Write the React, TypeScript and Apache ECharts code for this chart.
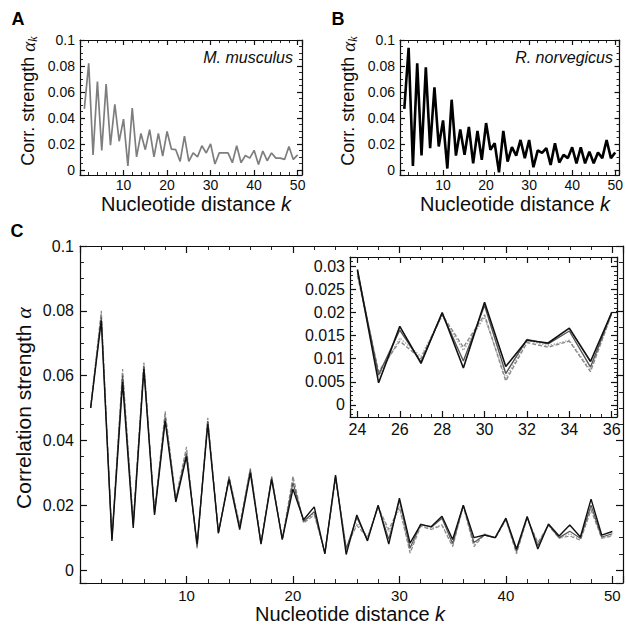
import React, { useEffect, useRef } from 'react';
import * as echarts from 'echarts';

// Nucleotide distances k
const distances = [1, 2, 3, 4, 5, 6, 7, 8, 9, 10, 11, 12, 13, 14, 15, 16, 17, 18, 19, 20, 21, 22, 23, 24, 25, 26, 27, 28, 29, 30, 31, 32, 33, 34, 35, 36, 37, 38, 39, 40, 41, 42, 43, 44, 45, 46, 47, 48, 49, 50];

// Panel A: M. musculus
const musculus = [0.047, 0.082, 0.0115, 0.068, 0.015, 0.066, 0.019, 0.0505, 0.022, 0.039, 0.003, 0.0475, 0.010, 0.028, 0.0155, 0.031, 0.010, 0.028, 0.0105, 0.0295, 0.016, 0.0155, 0.0065, 0.026, 0.0065, 0.013, 0.010, 0.0185, 0.013, 0.020, 0.0045, 0.013, 0.013, 0.013, 0.0055, 0.0185, 0.0055, 0.011, 0.009, 0.015, 0.004, 0.0145, 0.007, 0.013, 0.009, 0.009, 0.008, 0.018, 0.008, 0.0115];

// Panel B: R. norvegicus
const norvegicus = [0.047, 0.094, 0.003, 0.082, 0.011, 0.079, 0.0167, 0.0636, 0.018, 0.038, 0.001, 0.054, 0.011, 0.031, 0.0115, 0.033, 0.005, 0.030, 0.0077, 0.036, 0.0154, 0.0205, -0.002, 0.030, 0.0064, 0.0174, 0.011, 0.023, 0.009, 0.023, 0.002, 0.015, 0.013, 0.0167, 0.0038, 0.0205, 0.0056, 0.0115, 0.009, 0.0174, 0.005, 0.0174, 0.005, 0.014, 0.005, 0.0133, 0.009, 0.023, 0.009, 0.0133];

// Panel C: several overlapping estimates
const corrBlack = [0.050, 0.077, 0.009, 0.058, 0.013, 0.062, 0.017, 0.046, 0.021, 0.035, 0.008, 0.045, 0.0115, 0.028, 0.0125, 0.030, 0.008, 0.028, 0.0095, 0.025, 0.0155, 0.0195, 0.005, 0.0293, 0.0048, 0.017, 0.009, 0.020, 0.008, 0.0222, 0.0083, 0.014, 0.0134, 0.0166, 0.0094, 0.020, 0.010, 0.0108, 0.0100, 0.016, 0.0065, 0.0165, 0.0065, 0.0142, 0.0105, 0.0139, 0.0102, 0.0219, 0.0108, 0.0119];
const corrDark = [0.050, 0.078, 0.0095, 0.060, 0.014, 0.063, 0.0175, 0.047, 0.0215, 0.036, 0.0072, 0.046, 0.0114, 0.0285, 0.013, 0.031, 0.0082, 0.0285, 0.0095, 0.027, 0.015, 0.018, 0.0052, 0.029, 0.0065, 0.0162, 0.0093, 0.0198, 0.0095, 0.0215, 0.0068, 0.0142, 0.0132, 0.016, 0.0082, 0.020, 0.0085, 0.0108, 0.0100, 0.0158, 0.0058, 0.0163, 0.0075, 0.014, 0.0100, 0.012, 0.0098, 0.020, 0.0102, 0.0112];
const corrDashed = [0.050, 0.080, 0.010, 0.062, 0.015, 0.064, 0.018, 0.049, 0.022, 0.038, 0.0067, 0.047, 0.0113, 0.029, 0.014, 0.0314, 0.0082, 0.0289, 0.0093, 0.029, 0.0145, 0.017, 0.0055, 0.028, 0.0072, 0.0138, 0.010, 0.0195, 0.0125, 0.0195, 0.0052, 0.0135, 0.0125, 0.0138, 0.0072, 0.0198, 0.0072, 0.011, 0.0098, 0.0155, 0.005, 0.016, 0.0085, 0.0138, 0.0098, 0.0105, 0.0092, 0.0185, 0.0098, 0.0105];
const corrLight = [0.051, 0.0795, 0.0098, 0.061, 0.0145, 0.0635, 0.0178, 0.048, 0.0218, 0.037, 0.007, 0.0465, 0.0112, 0.0288, 0.0135, 0.031, 0.0083, 0.0287, 0.0094, 0.028, 0.0148, 0.0175, 0.0054, 0.0285, 0.0062, 0.0145, 0.0105, 0.0192, 0.0118, 0.019, 0.0058, 0.014, 0.0128, 0.014, 0.0075, 0.0196, 0.0078, 0.0112, 0.0099, 0.0156, 0.0055, 0.0161, 0.008, 0.0139, 0.0099, 0.0112, 0.0094, 0.019, 0.0099, 0.0108];

// Inset range
const insetFrom = 24;
const insetTo = 36;

const SANS = '"Liberation Sans", Arial, Helvetica, sans-serif';
const SERIF = '"Liberation Serif", "DejaVu Serif", serif';
const INK = '#0d0d0d';
const TICK = '#111';

function pairs(vals: number[]) {
  return distances.map((k, i) => [k, vals[i]]);
}
function insetPairs(vals: number[]) {
  return pairs(vals).filter((p) => p[0] >= insetFrom && p[0] <= insetTo);
}

function fmt(step: number, hideZero: boolean) {
  return (v: number) => {
    if (v < -1e-12) return '';
    if (hideZero && Math.abs(v) < 1e-12) return '';
    const r = v / step;
    if (Math.abs(r - Math.round(r)) > 1e-6) return '';
    return String(parseFloat(v.toFixed(4)));
  };
}

function axisDef(
  grid: number,
  min: number,
  max: number,
  step: number,
  minorSplit: number,
  labels: boolean,
  fontSize: number,
  hideZero: boolean,
  margin: number,
  tickLen: number
) {
  return {
    type: 'value',
    gridIndex: grid,
    min,
    max,
    minInterval: step,
    maxInterval: step,
    splitLine: { show: false },
    axisLine: { show: true, onZero: false, lineStyle: { color: INK, width: 1.2 } },
    axisTick: { show: true, inside: true, length: tickLen, lineStyle: { color: TICK, width: 1.2 } },
    minorTick: { show: true, splitNumber: minorSplit, length: Math.max(2, Math.round(tickLen * 0.5)), lineStyle: { color: TICK, width: 0.9 } },
    axisLabel: {
      show: labels,
      margin,
      fontSize,
      fontFamily: SANS,
      color: INK,
      formatter: fmt(step, hideZero),
    },
  };
}

export default function App() {
  const ref = useRef<HTMLDivElement>(null);

  useEffect(() => {
    if (!ref.current) return;
    const chart = echarts.init(ref.current, undefined, { renderer: 'svg' });

    const xAxis = [
      axisDef(0, 0, 51, 10, 5, true, 14, true, 3, 5),
      { ...axisDef(0, 0, 51, 10, 5, false, 14, true, 3, 5), position: 'top' },
      axisDef(1, 0, 51, 10, 5, true, 14, true, 3, 5),
      { ...axisDef(1, 0, 51, 10, 5, false, 14, true, 3, 5), position: 'top' },
      axisDef(2, 0, 51, 10, 5, true, 15, true, 5, 7),
      { ...axisDef(2, 0, 51, 10, 5, false, 15, true, 5, 7), position: 'top' },
      axisDef(3, 23.65, 36.25, 2, 4, true, 16, false, 4, 6),
      { ...axisDef(3, 23.65, 36.25, 2, 4, false, 16, false, 4, 6), position: 'top' },
    ];
    const yAxis = [
      axisDef(0, -0.004, 0.1, 0.02, 4, true, 14, false, 5, 5),
      { ...axisDef(0, -0.004, 0.1, 0.02, 4, false, 14, false, 5, 5), position: 'right' },
      axisDef(1, -0.004, 0.1, 0.02, 4, true, 14, false, 5, 5),
      { ...axisDef(1, -0.004, 0.1, 0.02, 4, false, 14, false, 5, 5), position: 'right' },
      axisDef(2, -0.004, 0.1, 0.02, 4, true, 16, false, 6, 7),
      { ...axisDef(2, -0.004, 0.1, 0.02, 4, false, 16, false, 6, 7), position: 'right' },
      axisDef(3, -0.0026, 0.032, 0.005, 5, true, 16, false, 5, 6),
      { ...axisDef(3, -0.0026, 0.032, 0.005, 5, false, 16, false, 5, 6), position: 'right' },
    ];

    const line = (xi: number, data: number[][], color: string, width: number, type: any = 'solid', z = 2) => ({
      type: 'line',
      xAxisIndex: xi,
      yAxisIndex: xi,
      data,
      symbol: 'none',
      showSymbol: false,
      z,
      lineStyle: { color, width, type },
      emphasis: { disabled: true },
    });

    const yTitle = (x: number, y: number, size: number, text: string) => ({
      type: 'text',
      x,
      y,
      rotation: Math.PI / 2,
      style: {
        text,
        align: 'center',
        verticalAlign: 'middle',
        rich: {
          t: { fontSize: size, fontFamily: SANS, fill: INK, lineHeight: size + 4, verticalAlign: 'middle' },
          a: { fontSize: size + 1, fontFamily: SERIF, fontStyle: 'italic', fill: INK, lineHeight: size + 4, verticalAlign: 'middle' },
          s: { fontSize: Math.round(size * 0.68), fontFamily: SERIF, fontStyle: 'italic', fill: INK, lineHeight: Math.round(size * 0.68), verticalAlign: 'bottom' },
        },
      },
    });
    const xTitle = (x: number, y: number, size: number) => ({
      type: 'text',
      x,
      y,
      style: {
        text: '{t|Nucleotide distance }{k|k}',
        align: 'center',
        verticalAlign: 'middle',
        rich: {
          t: { fontSize: size, fontFamily: SANS, fill: INK },
          k: { fontSize: size, fontFamily: SANS, fontStyle: 'italic', fill: INK },
        },
      },
    });
    const letter = (x: number, y: number, t: string) => ({
      type: 'text',
      x,
      y,
      style: { text: t, fontSize: 18, fontWeight: 'bold', fontFamily: SANS, fill: '#000', align: 'center', verticalAlign: 'middle' },
    });
    const species = (x: number, y: number, t: string) => ({
      type: 'text',
      x,
      y,
      z: 10,
      style: { text: t, fontSize: 16, fontStyle: 'italic', fontFamily: SANS, fill: INK, align: 'right', verticalAlign: 'middle' },
    });

    chart.setOption({
      animation: false,
      backgroundColor: '#fff',
      grid: [
        { left: 80, top: 40, width: 222, height: 135 },
        { left: 400, top: 40, width: 221, height: 135 },
        { left: 80, top: 246, width: 545, height: 337 },
        { left: 350, top: 257, width: 267, height: 160, show: true, backgroundColor: '#fff', borderWidth: 0 },
      ],
      xAxis,
      yAxis,
      series: [
        line(0, pairs(musculus), '#7e7e7e', 1.7),
        line(2, pairs(norvegicus), '#000', 2.6),
        line(4, pairs(corrLight), '#a8a8a8', 1.2, [1.5, 1.5]),
        line(4, pairs(corrDashed), '#8a8a8a', 1.2, [4, 2]),
        line(4, pairs(corrDark), '#555', 1.2),
        line(4, pairs(corrBlack), '#111', 1.4),
        line(6, insetPairs(corrLight), '#a8a8a8', 1.4, [1.5, 1.5], 5),
        line(6, insetPairs(corrDashed), '#8a8a8a', 1.4, [4, 2], 5),
        line(6, insetPairs(corrDark), '#555', 1.4, 'solid', 5),
        line(6, insetPairs(corrBlack), '#111', 1.6, 'solid', 5),
      ],
      graphic: [
        letter(18, 19, 'A'),
        letter(338, 19, 'B'),
        letter(17, 231, 'C'),
        yTitle(28, 101, 18, '{t|Corr. strength }{a|α}{s|k}'),
        yTitle(348, 101, 18, '{t|Corr. strength }{a|α}{s|k}'),
        yTitle(23, 408, 21, '{t|Correlation strength }{a|α}'),
        xTitle(196, 204, 20),
        xTitle(515, 204, 20),
        xTitle(350, 614, 20),
        species(293, 57, 'M. musculus'),
        species(613, 57, 'R. norvegicus'),
      ],
    });

    return () => chart.dispose();
  }, []);

  return (
    <div
      ref={ref}
      style={{ position: 'absolute', left: 0, top: 0, width: 626, height: 628, background: '#fff' }}
    />
  );
}
